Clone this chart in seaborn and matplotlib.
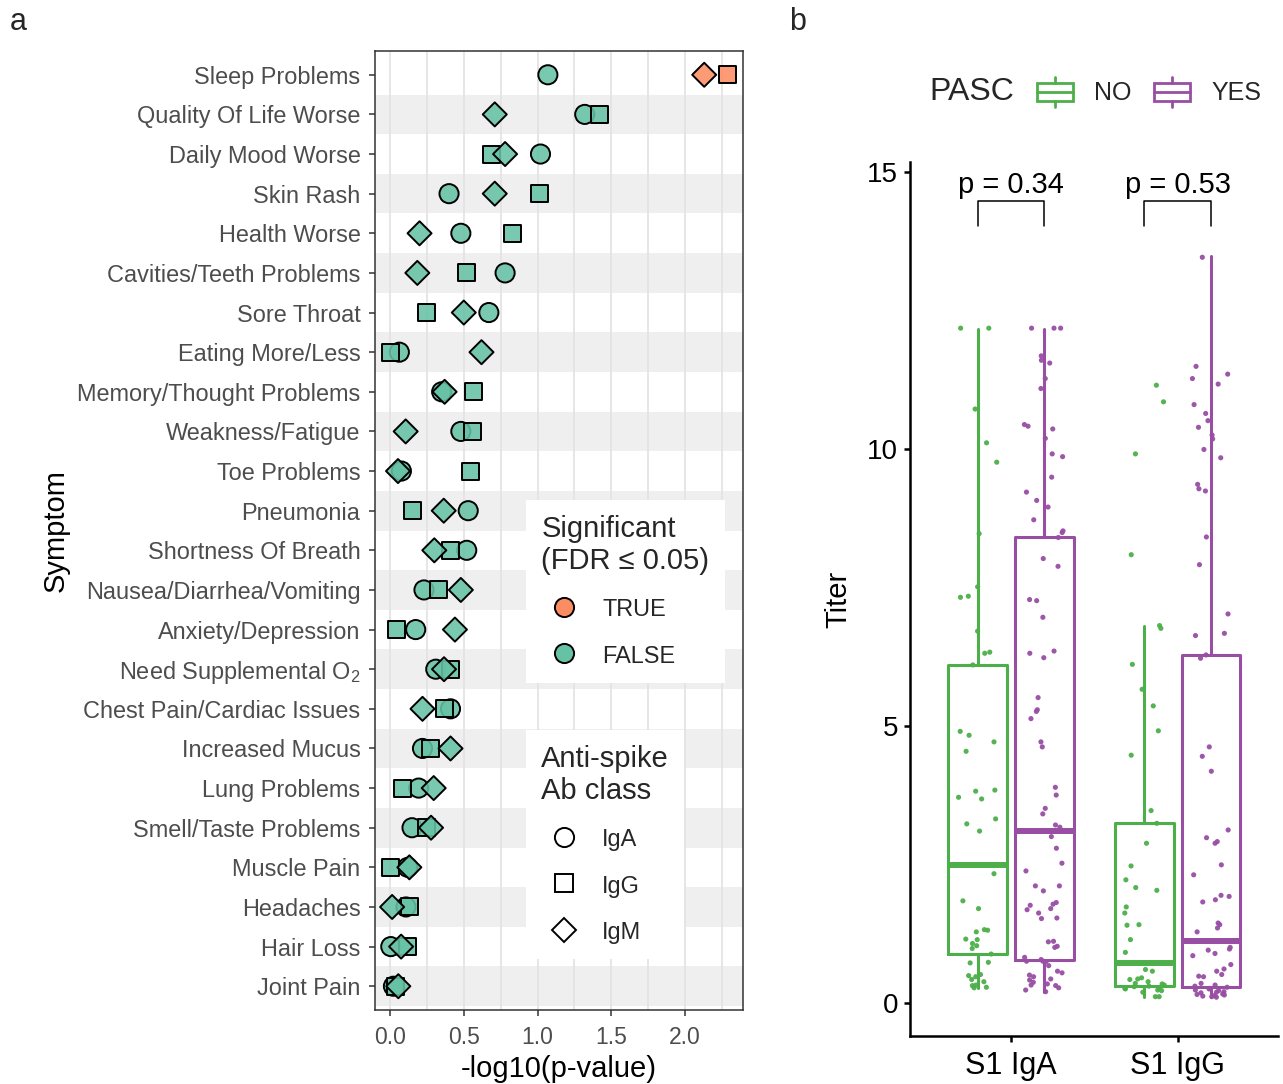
import numpy as np
import pandas as pd
import matplotlib
matplotlib.use("Agg")
import matplotlib.pyplot as plt
import seaborn as sns
from matplotlib.lines import Line2D
from matplotlib.patches import Patch, Rectangle
from matplotlib.legend_handler import HandlerBase

# ---------------- data: panel a ----------------
symptoms = ["Sleep Problems", "Quality Of Life Worse", "Daily Mood Worse", "Skin Rash",
            "Health Worse", "Cavities/Teeth Problems", "Sore Throat", "Eating More/Less",
            "Memory/Thought Problems", "Weakness/Fatigue", "Toe Problems", "Pneumonia",
            "Shortness Of Breath", "Nausea/Diarrhea/Vomiting", "Anxiety/Depression",
            "Need Supplemental O$_\\mathregular{2}$", "Chest Pain/Cardiac Issues", "Increased Mucus",
            "Lung Problems", "Smell/Taste Problems", "Muscle Pain", "Headaches", "Hair Loss",
            "Joint Pain"]
iga = [1.07, 1.32, 1.02, 0.40, 0.48, 0.78, 0.67, 0.063, 0.35, 0.48, 0.077, 0.53,
       0.52, 0.23, 0.174, 0.31, 0.41, 0.22, 0.194, 0.149, 0.12, 0.108, 0.005, 0.023]
igg = [2.29, 1.42, 0.69, 1.01, 0.83, 0.52, 0.25, 0.0, 0.565, 0.56, 0.545, 0.154,
       0.41, 0.33, 0.045, 0.41, 0.366, 0.276, 0.086, 0.249, 0.005, 0.129, 0.12, 0.04]
igm = [2.13, 0.71, 0.78, 0.71, 0.20, 0.185, 0.50, 0.62, 0.37, 0.106, 0.054, 0.364,
       0.30, 0.48, 0.44, 0.366, 0.22, 0.41, 0.296, 0.278, 0.131, 0.014, 0.075, 0.056]
significant = [("Sleep Problems", "IgG"), ("Sleep Problems", "IgM")]
ab_classes = ["IgA", "IgG", "IgM"]
sig_levels = ["TRUE", "FALSE"]

# ---------------- data: panel b ----------------
antigens = ["S1 IgA", "S1 IgG"]
pasc_levels = ["NO", "YES"]
iga_no = [12.18, 12.18, 10.72, 10.11, 9.76, 8.47, 7.51, 7.32, 7.34, 6.71, 6.31, 6.33, 6.10,
          4.90, 4.83, 4.71, 4.54, 3.82, 3.84, 3.71, 3.68, 3.32, 3.23, 3.10, 2.33, 1.84, 1.70,
          1.31, 1.32, 1.28, 1.15, 1.14, 1.07, 1.03, 0.98, 0.88, 0.73, 0.72, 0.51, 0.49, 0.47,
          0.42, 0.38, 0.31, 0.32, 0.28, 0.27]
iga_yes = [12.18, 12.18, 12.18, 11.68, 11.60, 11.55, 11.27, 11.09, 10.44, 10.41, 10.36,
           10.19, 9.91, 9.86, 9.49, 9.22, 9.07, 8.95, 8.72, 8.52, 8.49, 8.40, 8.02, 7.88,
           7.28, 7.26, 6.96, 6.35, 6.23, 6.31, 5.51, 5.29, 5.26, 5.13, 4.71, 4.62, 3.89,
           3.75, 3.51, 3.41, 3.21, 3.17, 3.00, 2.79, 2.52, 2.38, 2.11, 2.11, 2.02, 1.81,
           1.78, 1.76, 1.70, 1.68, 1.62, 1.53, 1.52, 1.10, 1.11, 1.02, 1.00, 0.82, 0.78,
           0.75, 0.75, 0.74, 0.67, 0.57, 0.54, 0.50, 0.47, 0.43, 0.41, 0.37, 0.34, 0.32,
           0.31, 0.27, 0.23, 0.20]
igg_no = [11.15, 10.85, 9.91, 8.09, 6.81, 6.76, 6.11, 5.66, 5.36, 4.91, 4.47, 3.47, 3.24,
          2.88, 2.47, 2.22, 2.08, 2.03, 1.73, 1.62, 1.41, 1.40, 1.14, 0.91, 0.60, 0.57,
          0.45, 0.42, 0.43, 0.38, 0.34, 0.32, 0.29, 0.26, 0.23, 0.22, 0.19, 0.11, 0.11,
          0.30, 0.27, 0.25, 0.35]
igg_yes = [13.46, 11.49, 11.35, 11.27, 11.17, 10.80, 10.64, 10.51, 10.39, 10.25, 10.18,
           9.99, 9.84, 9.36, 9.28, 9.24, 8.41, 7.91, 7.02, 6.67, 6.63, 6.28, 6.22, 4.62,
           4.45, 4.18, 3.12, 2.98, 2.91, 2.88, 2.49, 2.31, 1.94, 1.92, 1.86, 1.82, 1.44,
           1.41, 1.35, 1.28, 1.00, 0.97, 0.95, 0.89, 0.85, 0.69, 0.61, 0.57, 0.51, 0.48,
           0.47, 0.35, 0.32, 0.30, 0.28, 0.26, 0.25, 0.23, 0.22, 0.20, 0.19, 0.18, 0.16,
           0.15, 0.14, 0.13, 0.12, 0.11, 0.10]
# box statistics: (whislo, q1, median, q3, whishi)
box_iga_no = (0.27, 0.88, 2.49, 6.10, 12.17)
box_iga_yes = (0.20, 0.78, 3.11, 8.41, 12.17)
box_igg_no = (0.11, 0.30, 0.71, 3.24, 6.80)
box_igg_yes = (0.11, 0.28, 1.11, 6.27, 13.48)
p_values = ["p = 0.34", "p = 0.53"]
bracket_low, bracket_high, p_label_y = 14.03, 14.48, 14.62

# ---------------- style ----------------
sns.set_theme(style="white")
plt.rcParams['font.family'] = ['Liberation Sans', 'DejaVu Sans']
plt.rcParams['mathtext.fontset'] = 'custom'
plt.rcParams['mathtext.rm'] = 'Liberation Sans'
plt.rcParams['mathtext.it'] = 'Liberation Sans:italic'

teal, orange = '#66C2A5', '#FC8D62'
green, purple = '#4DAF4A', '#984EA3'
W, H = 1283, 1084
fig = plt.figure(figsize=(W / 100, H / 100), dpi=100)
fig.patch.set_facecolor('white')

# ================= panel a =================
ax1 = fig.add_axes([375 / W, (H - 1010) / H, 368 / W, 959 / H])
rows = []
for i, s in enumerate(symptoms):
    for cls, vals in zip(ab_classes, [iga, igg, igm]):
        rows.append(dict(symptom=s, cls=cls, value=vals[i],
                         sig="TRUE" if (s, cls) in significant else "FALSE"))
dfa = pd.DataFrame(rows)

n = len(symptoms)
for i in range(1, n, 2):
    ax1.axhspan(i - 0.5, i + 0.5, color='#EFEFEF', lw=0, zorder=0)

pal_a = {"TRUE": matplotlib.colors.to_rgba(orange, 0.88),
         "FALSE": matplotlib.colors.to_rgba(teal, 0.88)}
sns.scatterplot(data=dfa, x='value', y='symptom', hue='sig', hue_order=sig_levels,
                style='cls', style_order=ab_classes,
                markers={'IgA': 'o', 'IgG': 's', 'IgM': 'D'},
                size='cls', sizes={'IgA': 190, 'IgG': 150, 'IgM': 150},
                palette=pal_a, edgecolor='black', linewidth=1.4,
                legend=False, ax=ax1, zorder=3)

ax1.set_yticks(range(n))
ax1.set_yticklabels(symptoms)
ax1.set_ylim(n - 1 + 0.6, -0.6)
ax1.set_xlim(-0.102, 2.393)
ax1.set_xticks([0, 0.5, 1.0, 1.5, 2.0])
ax1.set_xticks(np.arange(0.25, 2.3, 0.5), minor=True)
ax1.grid(axis='x', which='both', color='#E2E2E2', lw=1.2)
ax1.grid(axis='y', visible=False)
ax1.set_axisbelow(True)
ax1.tick_params(axis='both', which='major', length=4, width=1.1, color='#333333',
                labelcolor='#4D4D4D', left=True, bottom=True)
ax1.tick_params(axis='y', pad=6.5, labelsize=16.9)
ax1.tick_params(axis='x', pad=7.5, labelsize=16.5)
ax1.tick_params(axis='x', which='minor', length=0)
for sp in ax1.spines.values():
    sp.set_color('#333333')
    sp.set_linewidth(1.1)
ax1.set_xlabel('-log10(p-value)', fontsize=21, color='black')
ax1.xaxis.set_label_coords(0.5, -0.047)
ax1.set_ylabel('Symptom', fontsize=21, color='black')
ax1.yaxis.set_label_coords((70 - 375) / 368, 0.5)

leg_kw = dict(loc='upper left', borderaxespad=0, frameon=True, fancybox=False,
              facecolor='white', edgecolor='none', framealpha=1, fontsize=16.9,
              title_fontsize=21, alignment='left', borderpad=0.65, handlelength=1.9,
              handletextpad=0.69, labelspacing=0.98, handleheight=1.0)
h1 = [Line2D([], [], ls='', marker='o', ms=13.8, mfc=c, mec='black', mew=1.4)
      for c in [orange, teal]]
leg1 = ax1.legend(h1, sig_levels, title='Significant\n(FDR \u2264 0.05)',
                  bbox_to_anchor=((526 - 375) / 368, (1010 - 500) / 959), **leg_kw)
leg1.get_title().set_linespacing(1.15)
ax1.add_artist(leg1)
h2 = [Line2D([], [], ls='', marker=m, ms=ms, mfc='white', mec='black', mew=1.4)
      for m, ms in [('o', 13.8), ('s', 12.3), ('D', 12.3)]]
leg2 = ax1.legend(h2, ab_classes, title='Anti-spike\nAb class',
                  bbox_to_anchor=((526 - 375) / 368, (1010 - 730) / 959), **leg_kw)
leg2.get_title().set_linespacing(1.15)

# ================= panel b =================
ax2 = fig.add_axes([910 / W, (H - 1036) / H, 368 / W, (1036 - 162) / H])
groups = {("S1 IgA", "NO"): iga_no, ("S1 IgA", "YES"): iga_yes,
          ("S1 IgG", "NO"): igg_no, ("S1 IgG", "YES"): igg_yes}
boxes = {("S1 IgA", "NO"): box_iga_no, ("S1 IgA", "YES"): box_iga_yes,
         ("S1 IgG", "NO"): box_igg_no, ("S1 IgG", "YES"): box_igg_yes}
recs = []
for (ag, ps), vals in groups.items():
    for v in vals:
        recs.append(dict(antigen=ag, PASC=ps, titer=v))
dfb = pd.DataFrame(recs)
pal_b = {"NO": green, "YES": purple}
dodge_off = {"NO": -0.2, "YES": 0.2}

stats, positions, cols = [], [], []
for (ag, ps), (lo, q1, med, q3, hi) in boxes.items():
    stats.append(dict(whislo=lo, q1=q1, med=med, q3=q3, whishi=hi, fliers=[]))
    positions.append(antigens.index(ag) + dodge_off[ps])
    cols.append(pal_b[ps])
bp = ax2.bxp(stats, positions=positions, widths=0.35, showfliers=False, showcaps=False,
             manage_ticks=False, zorder=2)
for i, c in enumerate(cols):
    bp['boxes'][i].set_color(c)
    bp['boxes'][i].set_linewidth(2.2)
    bp['medians'][i].set_color(c)
    bp['medians'][i].set_linewidth(4.3)
    for w in bp['whiskers'][2 * i:2 * i + 2]:
        w.set_color(c)
        w.set_linewidth(2.2)

np.random.seed(7)
sns.stripplot(data=dfb, x='antigen', y='titer', hue='PASC', order=antigens,
              hue_order=pasc_levels, dodge=True, jitter=0.24, size=3.7, palette=pal_b,
              linewidth=0, alpha=0.95, legend=False, ax=ax2, zorder=3)

for i, lab in enumerate(p_values):
    x0, x1 = i + dodge_off["NO"], i + dodge_off["YES"]
    ax2.plot([x0, x0, x1, x1], [bracket_low, bracket_high, bracket_high, bracket_low],
             color='black', lw=1.1, zorder=4)
    ax2.text(i, p_label_y, lab, ha='center', va='baseline', fontsize=21, color='black')

ax2.set_xlim(-0.605, 1.6)
ax2.set_ylim(-0.6, 15.18)
ax2.set_yticks([0, 5, 10, 15])
ax2.set_xticks([0, 1])
ax2.set_xticklabels(antigens)
ax2.grid(False)
for side in ['top', 'right']:
    ax2.spines[side].set_visible(False)
for side in ['left', 'bottom']:
    ax2.spines[side].set_color('black')
    ax2.spines[side].set_linewidth(1.8)
ax2.tick_params(axis='both', length=4.5, width=1.8, color='black', labelcolor='black',
                left=True, bottom=True)
ax2.tick_params(axis='y', labelsize=20, pad=4)
ax2.tick_params(axis='x', labelsize=22, pad=6)
ax2.set_xlabel('')
ax2.set_ylabel('Titer', fontsize=21, color='black')
ax2.yaxis.set_label_coords((852 - 910) / 368, 0.5)


class BoxKey(HandlerBase):
    def create_artists(self, legend, orig_handle, xdescent, ydescent, width, height,
                       fontsize, trans):
        c = orig_handle.get_edgecolor()
        x0, y0 = -xdescent, -ydescent
        cx = x0 + width / 2
        bh = height * 0.6
        by = y0 + (height - bh) / 2
        rect = Rectangle((x0, by), width, bh, fill=False, ec=c, lw=2, transform=trans)
        med = Line2D([x0, x0 + width], [y0 + height / 2] * 2, color=c, lw=2, transform=trans)
        w1 = Line2D([cx, cx], [y0, by], color=c, lw=2, transform=trans)
        w2 = Line2D([cx, cx], [by + bh, y0 + height], color=c, lw=2, transform=trans)
        return [rect, med, w1, w2]


fig.text(929 / W, 1 - 92 / H, 'PASC', fontsize=23, va='center', ha='left')
fig.legend(handles=[Patch(ec=pal_b[p], fc='none') for p in pasc_levels], labels=pasc_levels,
           handler_map={Patch: BoxKey()}, ncol=2, loc='center left',
           bbox_to_anchor=(1037 / W, 1 - 92 / H), frameon=False, fontsize=18,
           handlelength=1.45, handleheight=1.5, handletextpad=0.84, columnspacing=0.88,
           borderpad=0, borderaxespad=0)

fig.text(10 / W, 1 - 22 / H, 'a', fontsize=22, va='center', ha='left')
fig.text(789 / W, 1 - 22 / H, 'b', fontsize=22, va='center', ha='left')

fig.savefig('out.png', dpi=100, facecolor='white')
